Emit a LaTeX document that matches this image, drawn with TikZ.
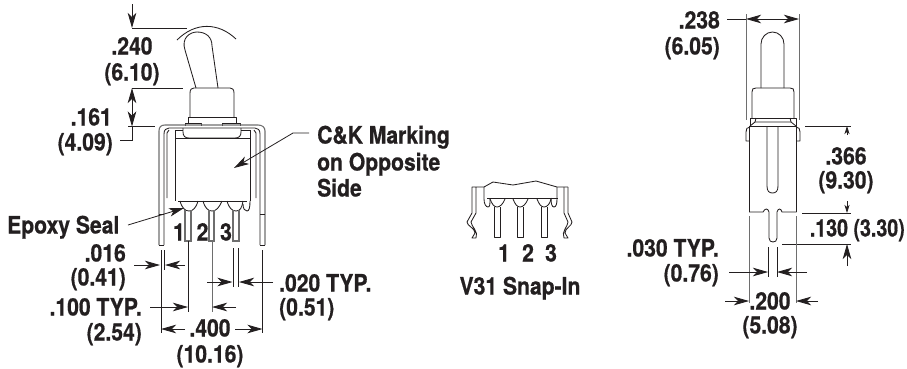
\documentclass[tikz,border=0pt]{standalone}
\usepackage{fontspec}
\setmainfont{TeX Gyre Heros}[FakeStretch=0.88,BoldFeatures={FakeBold=0.6}]
\usetikzlibrary{arrows.meta}
\definecolor{ink}{HTML}{231F20}
\definecolor{gr}{HTML}{6E6E6E}
\tikzset{
 part/.style={draw=ink,line width=0.85pt,line join=round},
 grayp/.style={draw=gr,line width=1.1pt},
 thin dim/.style={draw=ink,line width=0.8pt},
 ext/.style={draw=gr,line width=0.9pt},
 big/.style={-{Stealth[length=15pt,width=8.5pt,inset=4pt]},draw=ink,line width=0.8pt},
 small/.style={-{Stealth[length=8pt,width=5pt,inset=2pt]},draw=ink,line width=0.8pt},
 lab/.style={inner sep=0pt,text=ink,font=\fontsize{24}{24}\selectfont\bfseries,text height=17pt,text depth=0pt},
 lc/.style={lab,anchor=center},
 ll/.style={lab,anchor=west},
 lr/.style={lab,anchor=east},
}
\begin{document}
\begin{tikzpicture}[x=1pt,y=-1pt]
\useasboundingbox (0,0) rectangle (907,368);
% ---------- left view ----------
\draw[part] (177,40) .. controls (195,22) and (218,22) .. (236,39);
\draw[part] (196,88) -- (185,50) .. controls (181,38) and (190,32) .. (197,32) .. controls (206,32) and (212,37) .. (212,46) -- (218,88);
\draw[part] (190,117) -- (190,93) .. controls (190,89) and (192,88) .. (194,88) -- (230,88) .. controls (232,88) and (234,89) .. (234,93) -- (234,117);
\draw[part] (188,124) -- (188,117) -- (236,117) -- (236,124);
\draw[part] (185,126) -- (185,123) -- (201,123) -- (201,126);
\draw[part] (222,126) -- (222,123) -- (240,123) -- (240,126);
% frame
\draw[grayp] (159,245) -- (159,131) .. controls (159,127) and (161,125) .. (165,125) -- (258,125) .. controls (262,125) and (265,127) .. (265,131) -- (265,245);
\draw[part] (164,245) -- (164,198) -- (164,134) .. controls (164,130) and (166,128) .. (169,128) -- (255,128) .. controls (258,128) and (260,130) .. (260,134) -- (260,198) -- (260,245);
\draw[part] (159,245) -- (164,245) (260,245) -- (265,245);
\draw[part] (159,214) -- (164,214) (260,214) -- (265,214);
\draw[part] (167,198) -- (167,133) -- (169,130) (256,198) -- (256,133) -- (254,130);
% collar and body
\draw[part] (175,130) -- (183,130) (241,130) -- (250,130);
\draw[part] (183,128) -- (183,132) .. controls (183,136) and (185,138) .. (189,138) -- (235,138) .. controls (239,138) and (241,136) .. (241,132) -- (241,128);
\draw[part] (175,130) -- (175,201) (250,130) -- (250,201);
\draw[part] (175,138) -- (250,138);
\draw[part] (178,201) -- (247,201);
% bowls
\draw[part] (180,201) .. controls (182,208) and (185,211) .. (189,211) .. controls (193,211) and (196,208) .. (198,201);
\draw[part] (203,201) .. controls (205,208) and (208,211) .. (212,211) .. controls (216,211) and (219,208) .. (222,201);
\draw[part] (227,201) .. controls (229,208) and (232,211) .. (236,211) .. controls (240,211) and (242,208) .. (243,201);
\draw[part] (243,204) .. controls (243,209) and (245,211) .. (247,211) .. controls (249,211) and (250,208) .. (250,201);
% pins
\draw[grayp] (185,210) -- (185,241) -- (191,241) -- (191,210);
\draw[grayp] (209,210) -- (209,241) -- (214,241) -- (214,210);
\draw[grayp] (233,210) -- (233,241) -- (239,241) -- (239,210);
% extensions left view
\draw[thin dim] (132,28) -- (187,28);
\draw[thin dim] (132,88) -- (183,88);
\draw[thin dim] (128,126.5) -- (155,126.5);
\draw[thin dim] (120,140) -- (132,140) -- (132,126);
\draw[big] (132,4) -- (132,28);
\draw[big] (132,107) -- (132,88);
\draw[big] (132,107) -- (132,126.5);
\draw[thin dim] (161,250) -- (161,333) (164.5,250) -- (164.5,270);
\draw[thin dim] (262.5,250) -- (262.5,333);
\draw[thin dim] (188.5,241) -- (188.5,312);
\draw[ext] (212,241) -- (212,312);
\draw[thin dim] (233,248) -- (233,287) (238.5,248) -- (238.5,287);
\draw[big] (134,265) -- (160,265);
\draw[big] (185,265) -- (165,265);
\draw[big] (207,282) -- (232.5,282);
\draw[big] (273,282) -- (239,282);
\draw[big] (150,307) -- (188,307);
\draw[big] (236,307) -- (212,307);
\draw[big] (185,329) -- (161,329);
\draw[big] (235,329) -- (262.5,329);
\coordinate (ckA) at (309,133);
\coordinate (ckB) at (293,133);
\coordinate (ckT) at (234,168);
\draw[big] (ckA) -- (ckB) -- (ckT);
\coordinate (epA) at (128,225);
\coordinate (epT) at (184,208);
\draw[big] (epA) -- (epT);
% left labels
\node[lc] (a1) at (132,46) {.240};
\node[lc] (a2) at (132,72) {(6.10)};
\node[lr] (b1) at (112,117) {.161};
\node[lr] (b2) at (113,142) {(4.09)};
\node[ll] (c1) at (317,135) {C\&K Marking};
\node[ll] (c2) at (317,162) {on Opposite};
\node[ll] (c3) at (317,188) {Side};
\node[ll] (e1) at (7,225) {Epoxy Seal};
\node[lc] (n1) at (179,232) {1};
\node[lc] (n2) at (202.5,232) {2};
\node[lc] (n3) at (226,232) {3};
\node[lr] (d1) at (126,253) {.016};
\node[lr] (d2) at (126,277) {(0.41)};
\node[lr] (f1) at (142,307) {.100 TYP.};
\node[lr] (f2) at (142,332) {(2.54)};
\node[lc] (g1) at (210,328) {.400};
\node[lc] (g2) at (210,354) {(10.16)};
\node[ll] (h1) at (279,283) {.020 TYP.};
\node[ll] (h2) at (279,307) {(0.51)};
% ---------- middle view ----------
\draw[part] (484,187) -- (493,182) -- (513,185) -- (536,181) -- (557,187) -- (568,187);
\draw[part] (484,187) -- (472,187) -- (472,213) -- (467,222) .. controls (467,226) and (475,228) .. (475,233) -- (472,238) -- (476,238) .. controls (479,232) and (471,226) .. (471,222) -- (476,213) -- (476,187);
\draw[part] (568,187) -- (568,213) -- (572,222) .. controls (572,226) and (565,228) .. (565,233) -- (568,238) -- (564,238) .. controls (561,232) and (568,226) .. (568,222) -- (564,213) -- (564,187);
\draw[part] (484,187) -- (484,199) .. controls (484,204) and (486,207) .. (488,207) .. controls (490,207) and (490,204) .. (490,199);
\draw[part] (557,187) -- (557,199) .. controls (557,204) and (556,207) .. (554,207) .. controls (552,207) and (551,204) .. (551,198);
\draw[part] (487,198) -- (558,198);
\draw[part] (490,199) .. controls (492,204) and (494,207) .. (497,207) .. controls (500,207) and (503,204) .. (505,199);
\draw[part] (513,199) .. controls (515,204) and (517,207) .. (520,207) .. controls (523,207) and (526,204) .. (528,199);
\draw[part] (537,199) .. controls (539,204) and (541,207) .. (544,207) .. controls (547,207) and (550,204) .. (551,199);
\draw[part] (494,207) -- (494,237) -- (500,237) -- (500,207);
\draw[part] (517,207) -- (517,237) -- (523,237) -- (523,207);
\draw[part] (541,207) -- (541,237) -- (547,237) -- (547,207);
\node[lc] (m1) at (504,253) {1};
\node[lc] (m2) at (528,253) {2};
\node[lc] (m3) at (551,253) {3};
\node[lc] (m4) at (520,286) {V31 Snap-In};
% ---------- right view ----------
\draw[part] (761,88) -- (761,44) arc[start angle=180,end angle=360,x radius=11.5,y radius=12] -- (784,88);
\draw[part] (752,118) -- (752,92) .. controls (752,89) and (753,88) .. (756,88) -- (790,88) .. controls (793,88) and (794,89) .. (794,92) -- (794,118);
\draw[part] (750,126) -- (750,118) -- (796,118) -- (796,126);
\draw[part] (750,126) -- (755,122) -- (791,122) -- (796,126);
\draw[part] (755,122) -- (756,118) (791,122) -- (790,118);
\draw[part] (750,126) -- (796,126);
\draw[part] (750,127) .. controls (747,127) and (746,129) .. (746,132) -- (746,141) -- (749,141);
\draw[part] (796,127) .. controls (799,127) and (800,129) .. (800,132) -- (800,141) -- (796,141);
\draw[part] (749,126) -- (749,212) (796.5,126) -- (796.5,212);
\draw[part] (767,126) -- (767,186) .. controls (767,191) and (769,193) .. (772.5,193) .. controls (776,193) and (778,191) .. (778,186) -- (778,126);
\draw[part] (749,212) -- (763,212) .. controls (765,208) and (768,208) .. (769,212) -- (769,238) .. controls (769,241) and (771,242) .. (773,242) .. controls (775,242) and (777,241) .. (777,238) -- (777,212) .. controls (778,208) and (781,208) .. (782,212) -- (796.5,212);
% right dims
\draw[ext] (746,14) -- (746,120) (799,14) -- (799,120);
\draw[thin dim] (727,19) -- (746,19);
\draw[big] (772,19) -- (746,19);
\draw[big] (772,19) -- (799,19);
\draw[thin dim] (805,126) -- (851,126);
\draw[small] (847,135) -- (847,126);
\draw[thin dim] (802,213) -- (851,213);
\draw[small] (847,201) -- (847,213);
\draw[thin dim] (782,244) -- (851,244);
\draw[big] (847,266) -- (847,244);
\draw[ext] (749,216) -- (749,303) (796,216) -- (796,303);
\draw[thin dim] (768,247) -- (768,277) (777,247) -- (777,277);
\draw[big] (729,272) -- (768,272);
\draw[big] (807,272) -- (777,272);
\draw[big] (725,301) -- (749,301);
\draw[big] (818,301) -- (796,301);
\node[lr] (r1) at (720,20) {.238};
\node[lr] (r2) at (720,46) {(6.05)};
\node[lc] (r3) at (846,156) {.366};
\node[lc] (r4) at (846,180) {(9.30)};
\node[lr] (r5) at (905,228) {\scalebox{0.93}[1]{.130 (3.30)}};
\node[lr] (r6) at (719,248) {.030 TYP.};
\node[lr] (r7) at (719,273) {(0.76)};
\node[lc] (r8) at (770,301) {.200};
\node[lc] (r9) at (770,325) {(5.08)};
\end{tikzpicture}
\end{document}
